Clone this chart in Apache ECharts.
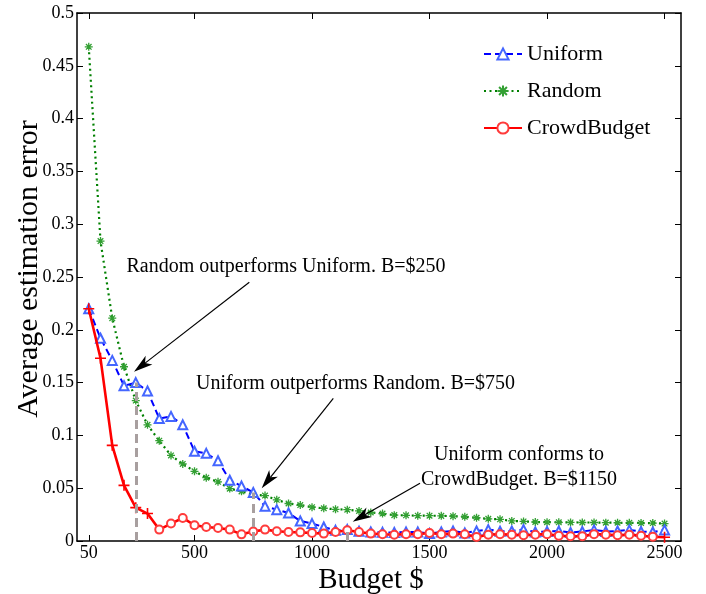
<!DOCTYPE html>
<html><head><meta charset="utf-8">
<script src="https://cdn.jsdelivr.net/npm/echarts@6/dist/echarts.min.js"></script>
<style>html,body{margin:0;padding:0;background:#fff}#c{width:706px;height:594px}</style>
</head><body><div id="c"></div>
<script>
const budgets = [50,100,150,200,250,300,350,400,450,500,
  550,600,650,700,750,800,850,900,950,1000,
  1050,1100,1150,1200,1250,1300,1350,1400,1450,1500,
  1550,1600,1650,1700,1750,1800,1850,1900,1950,2000,
  2050,2100,2150,2200,2250,2300,2350,2400,2450,2500];
const uniform = [0.220,0.192,0.171,0.147,0.150,0.142,0.116,0.118,0.110,0.085,
  0.083,0.076,0.0575,0.052,0.046,0.033,0.0297,0.0265,0.019,0.0165,
  0.0133,0.0101,0.0108,0.0092,0.0085,0.0082,0.0080,0.0085,0.0085,0.0070,
  0.0085,0.0095,0.0076,0.0095,0.0108,0.0092,0.0095,0.0108,0.0085,0.0090,
  0.0095,0.0080,0.0090,0.0105,0.0090,0.0095,0.0105,0.0090,0.0085,0.0105];
const random = [0.468,0.284,0.211,0.165,0.133,0.110,0.095,0.081,0.073,0.066,
  0.060,0.056,0.0496,0.047,0.044,0.043,0.039,0.0355,0.034,0.032,
  0.031,0.030,0.0297,0.0285,0.027,0.026,0.0245,0.0243,0.024,0.024,
  0.0238,0.0235,0.023,0.022,0.021,0.0205,0.019,0.0185,0.018,0.0178,
  0.0177,0.0176,0.0175,0.0175,0.0174,0.0173,0.0172,0.017,0.017,0.0165];
const crowdBudget = [0.220,0.173,0.0906,0.0527,0.0316,0.026,0.0108,0.0165,0.0218,0.0149,
  0.0133,0.0123,0.0108,0.0063,0.0090,0.0108,0.0092,0.0085,0.0082,0.0076,
  0.0070,0.0085,0.0101,0.0085,0.0070,0.0064,0.0060,0.0064,0.0064,0.0076,
  0.0064,0.0070,0.0064,0.0038,0.0060,0.0064,0.0060,0.0054,0.0060,0.0065,
  0.0050,0.0045,0.0045,0.0065,0.0060,0.0055,0.0060,0.0050,0.0040,0.0035];
const xTicks = [50,500,1000,1500,2000,2500];
const markedBudgets = [250,750,1150];
const plusMarked = [50,100,150,200,250,300,2500];

const FONT = 'Liberation Serif';
const PLUS = 'path://M-1,0L1,0M0,-1L0,1';
const STAR = 'path://M-1,0L1,0M0,-1L0,1M-0.7,-0.7L0.7,0.7M-0.7,0.7L0.7,-0.7';

const chart = echarts.init(document.getElementById('c'), null, {renderer:'canvas'});

const uniData = budgets.map((b,i)=>[b, uniform[i]]);
const rndData = budgets.map((b,i)=>[b, random[i]]);
const cbData = budgets.map((b,i)=>{
  if (plusMarked.indexOf(b) >= 0) {
    return {value:[b, crowdBudget[i]], symbol: PLUS, symbolSize: 11,
      itemStyle:{color:'#ff0000', borderColor:'#ff0000', borderWidth:1.6}};
  }
  return [b, crowdBudget[i]];
});
const vlines = markedBudgets.map(b=>{
  const i = budgets.indexOf(b);
  return [{coord:[b,0]},{coord:[b,uniform[i]]}];
});

function arrowGraphic(x1,y1,x2,y2){
  const dx=x2-x1, dy=y2-y1, len=Math.sqrt(dx*dx+dy*dy);
  const ux=dx/len, uy=dy/len, px=-uy, py=ux;
  const L=19, W=5.5, N=14;
  const bx=x2-ux*L, by=y2-uy*L;
  const nx=x2-ux*N, ny=y2-uy*N;
  return [
    {type:'line', shape:{x1:x1,y1:y1,x2:nx,y2:ny}, style:{stroke:'#000', lineWidth:1.2}, z:100},
    {type:'polygon', shape:{points:[[x2,y2],[bx+px*W,by+py*W],[nx,ny],[bx-px*W,by-py*W]]}, style:{fill:'#000'}, z:100}
  ];
}
const txt = (s,x,y,align)=>({type:'text', x:x, y:y, z:100,
  style:{text:s, font:'20px "Liberation Serif"', fill:'#000', align:align||'left', verticalAlign:'middle'}});

const option = {
  animation:false,
  backgroundColor:'#fff',
  grid:{left:77, right:25, top:13, bottom:53, containLabel:false, outerBoundsMode:'none'},
  legend:{
    data:['Uniform','Random','CrowdBudget'],
    orient:'vertical', left:478, top:38,
    itemWidth:38, itemHeight:14, itemGap:15, itemTextGap:0,
    textStyle:{fontFamily:FONT, fontSize:22, color:'#000'}
  },
  xAxis:[{
    type:'value', min:0, max:2570, position:'bottom',
    name:'Budget $', nameLocation:'middle', nameGap:25, nameMoveOverlap:false,
    nameTextStyle:{fontFamily:FONT, fontSize:29, color:'#000', padding:[0,16,0,0]},
    axisLine:{show:true, onZero:false, lineStyle:{color:'#000', width:1.5}},
    axisTick:{inside:true, length:6, customValues:xTicks, lineStyle:{color:'#000'}},
    axisLabel:{customValues:xTicks, fontFamily:FONT, fontSize:18, color:'#000', margin:3,
      formatter:(v)=>String(v)},
    splitLine:{show:false}
  },{
    type:'value', min:0, max:2570, position:'top',
    axisLine:{show:true, onZero:false, lineStyle:{color:'#000', width:1.5}},
    axisTick:{inside:true, length:6, customValues:xTicks, lineStyle:{color:'#000'}},
    axisLabel:{show:false}, splitLine:{show:false}
  }],
  yAxis:[{
    type:'value', min:0, max:0.5, interval:0.05, position:'left',
    name:'Average estimation error', nameLocation:'middle', nameGap:33, nameMoveOverlap:false,
    nameTextStyle:{fontFamily:FONT, fontSize:30, color:'#000', padding:[0,0,0,16]},
    axisLine:{show:true, onZero:false, lineStyle:{color:'#000', width:1.5}},
    axisTick:{show:true, inside:true, length:6, lineStyle:{color:'#000'}},
    axisLabel:{fontFamily:FONT, fontSize:18, color:'#000', margin:3},
    splitLine:{show:false}
  },{
    type:'value', min:0, max:0.5, interval:0.05, position:'right',
    axisLine:{show:true, onZero:false, lineStyle:{color:'#000', width:1.5}},
    axisTick:{show:true, inside:true, length:6, lineStyle:{color:'#000'}},
    axisLabel:{show:false}, splitLine:{show:false}
  }],
  series:[
    {
      name:'marks', type:'line', data:[], z:1, silent:true,
      markLine:{silent:true, symbol:['none','none'], label:{show:false},
        lineStyle:{color:'#a89f9f', width:3, type:[9,5]}, data:vlines, animation:false}
    },
    {
      name:'Uniform', type:'line', data:uniData, z:3,
      symbol:'emptyTriangle', symbolSize:9, showAllSymbol:true,
      lineStyle:{color:'#0000ff', width:2, type:[7,4]},
      itemStyle:{color:'#4466ff', borderColor:'#4466ff', borderWidth:1.2}
    },
    {
      name:'Random', type:'line', data:rndData, z:2,
      symbol:STAR, symbolSize:8, showAllSymbol:true,
      lineStyle:{color:'#008000', width:2.2, type:[2,3.5]},
      itemStyle:{color:'#33a033', borderColor:'#33a033', borderWidth:1.3}
    },
    {
      name:'CrowdBudget', type:'line', data:cbData, z:4,
      symbol:'emptyCircle', symbolSize:8, showAllSymbol:true,
      lineStyle:{color:'#ff0000', width:2.6},
      itemStyle:{color:'#ff3b3b', borderColor:'#ff3b3b', borderWidth:1.1}
    }
  ],
  graphic:[
    txt('Random outperforms Uniform. B=$250', 126.5, 266.5),
    txt('Uniform outperforms Random. B=$750', 196, 383.5),
    txt('Uniform conforms to', 519, 455, 'center'),
    txt('CrowdBudget. B=$1150', 519, 479.5, 'center'),
    ...arrowGraphic(249.3,282.3,134,371.7),
    ...arrowGraphic(333.3,398.3,261.7,488.3),
    ...arrowGraphic(420,483.3,352.7,521.7)
  ]
};
chart.setOption(option);
</script>
</body></html>
